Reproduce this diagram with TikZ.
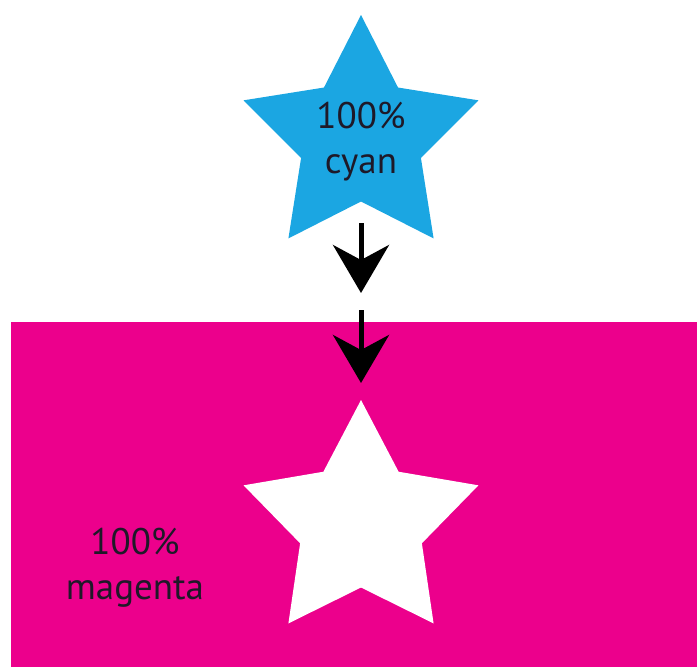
\documentclass[tikz,border=0pt]{standalone}
\usepackage{fontspec}
\setmainfont{PT Sans}
\usetikzlibrary{arrows.meta}
\definecolor{cyanP}{RGB}{27,166,226}
\definecolor{magentaP}{RGB}{236,0,140}
\definecolor{inkP}{RGB}{30,25,40}
\newcommand{\starpath}[3]{% center x, center y, inner radius
  \begin{scope}[shift={(#1,#2)},y=1pt]
    \fill (90:123.5) -- (126:#3) -- (162:123.5) -- (198:#3) -- (234:123.5) -- (270:#3)
      -- (306:123.5) -- (342:#3) -- (18:123.5) -- (54:#3) -- cycle;
  \end{scope}}
\begin{document}
\begin{tikzpicture}[x=1pt,y=-1pt,
  lbl/.style={text=inkP,font=\fontsize{37}{45}\selectfont,align=center,inner sep=0pt},
  arr/.style={line width=5pt,-{Stealth[length=48pt,width=56pt,inset=15pt]},draw=black}]
\useasboundingbox (0,0) rectangle (697,667);
\fill[white] (0,0) rectangle (697,667);
\fill[magentaP] (11,322) rectangle (697,667);
\begin{scope}[fill=cyanP]\starpath{361}{138.5}{63}\end{scope}
\begin{scope}[fill=white]\starpath{361}{523.5}{64}\end{scope}
\node[lbl] (ct) at (361,142) {100\%\\cyan};
\node[lbl] (mt) at (135,568) {100\%\\magenta};
\coordinate (a1s) at (361,223);
\coordinate (a1e) at (361,293);
\coordinate (a2s) at (361,310);
\coordinate (a2e) at (361,383);
\draw[arr] (a1s) -- (a1e);
\draw[arr] (a2s) -- (a2e);
\end{tikzpicture}
\end{document}
